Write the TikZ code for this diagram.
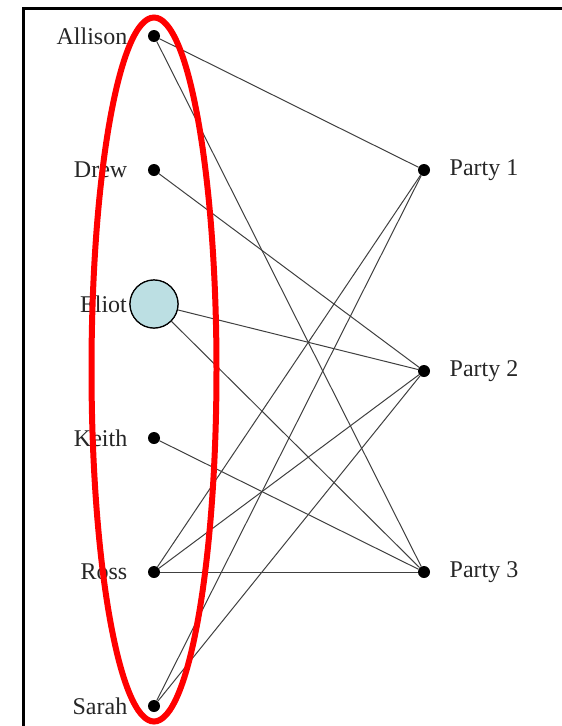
\documentclass[tikz,border=0pt]{standalone}
\usepackage{fontspec}
\setmainfont{Liberation Serif}
\usetikzlibrary{positioning}
\definecolor{eliotblue}{HTML}{BCDFE3}

\begin{document}
\begin{tikzpicture}[x=1pt, y=1pt, node distance=134pt, on grid,
                    every label/.style={font=\fontsize{24}{28}\selectfont, text=black!85},
                    dot/.style={circle, fill=black, inner sep=0pt, minimum size=12pt},
                    big/.style={circle, draw=black, line width=1.2pt, fill=eliotblue,
                                inner sep=0pt, minimum size=48pt},
                    tie/.style={black!75, line width=1pt}]
    \useasboundingbox (0,0) rectangle (562,-726);
    \node[dot, label={[label distance=17pt]left:Allison}] (allison) at (154,-36) {};
    \node[dot, label={[label distance=17pt]left:Drew}] (drew) [below=of allison] {};
    \node[big, label={[label distance=-1pt]left:Eliot}] (eliot) [below=of drew] {};
    \node[dot, label={[label distance=17pt]left:Keith}] (keith) [below=of eliot] {};
    \node[dot, label={[label distance=17pt]left:Ross}] (ross) [below=of keith] {};
    \node[dot, label={[label distance=17pt]left:Sarah}] (sarah) [below=of ross] {};
    \node[dot, label={[label distance=16pt]right:Party 1}] (p1) [right=270pt of drew] {};
    \node[dot, label={[label distance=16pt]right:Party 3}] (p3) [right=270pt of ross] {};
    \node[dot, label={[label distance=16pt]right:Party 2}] (p2) [below=201pt of p1] {};
    \draw[tie] (allison)--(p1); \draw[tie] (allison)--(p3);
    \draw[tie] (drew)--(p2);
    \draw[tie] (eliot)--(p2);   \draw[tie] (eliot)--(p3);
    \draw[tie] (keith)--(p3);
    \draw[tie] (ross)--(p1); \draw[tie] (ross)--(p2); \draw[tie] (ross)--(p3);
    \draw[tie] (sarah)--(p1); \draw[tie] (sarah)--(p2);
    \node[big] at (eliot) {};
    % frame and highlight
    \draw[line width=3pt] (23,-726) -- (23,-8) -- (562,-8);
    \draw[red, line width=6pt] (154,-369.5) ellipse (62.5 and 352);
  \end{tikzpicture}
\end{document}
